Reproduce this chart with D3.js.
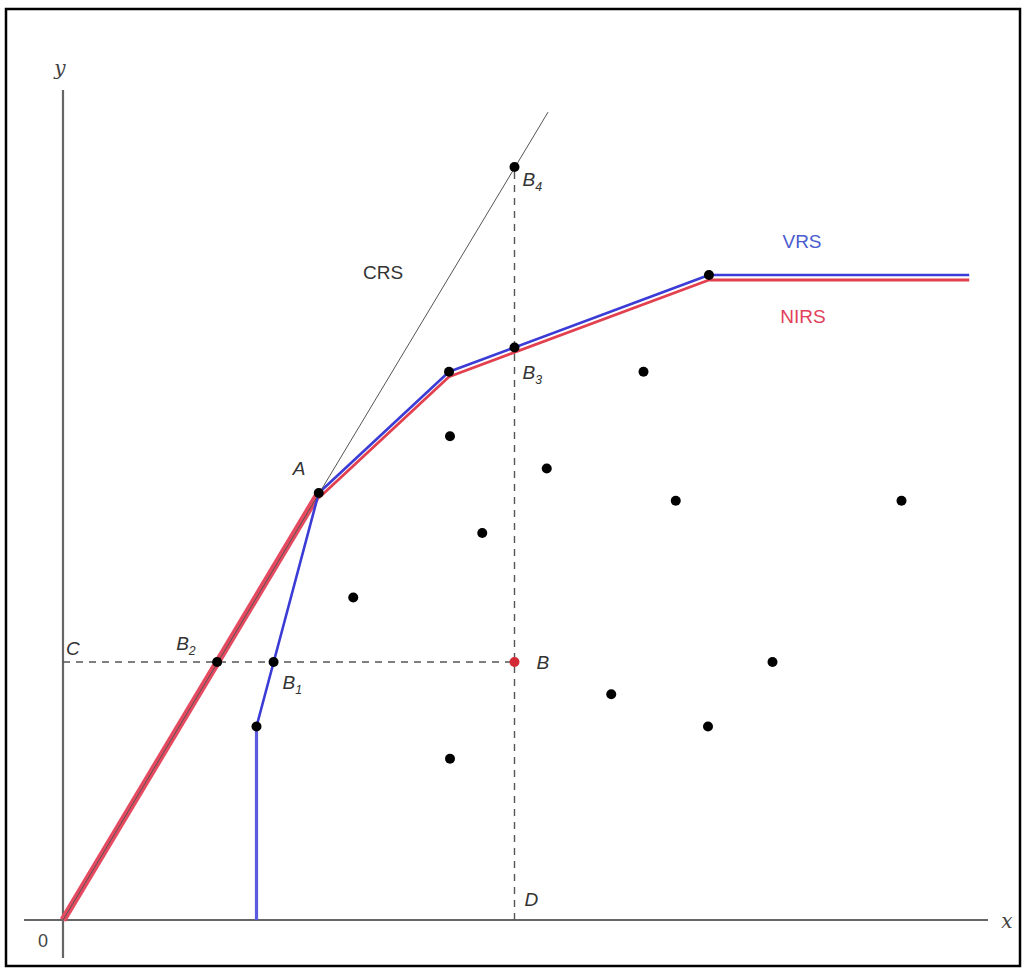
<!DOCTYPE html>
<html>
<head>
<meta charset="utf-8">
<script src="https://cdn.jsdelivr.net/npm/d3@7"></script>
<style>
  body { margin: 0; background: #fff; }
  svg { display: block; }
</style>
</head>
<body>
<div id="chart"></div>
<script>
// frontier data (input x, output y)
const crsLine = [[0, 0], [15.04, 25.05]];
const vrsFrontier = [[6, 0], [6, 6], [7.93, 13.24], [11.97, 17], [20.03, 20], [28.1, 20]];
const nirsFrontier = [[0, 0], [7.93, 13.24], [11.97, 17], [20.03, 20], [28.1, 20]];
const frontierDots = [[6, 6], [7.93, 13.24], [11.97, 17], [20.03, 20]];
const otherDmus = [[12, 15], [15, 14], [18, 17], [19, 13], [26, 13], [13, 12],
                   [9, 10], [22, 8], [17, 7], [20, 6], [12, 5]];
// projection points
const pointB = [14, 8];
const projNames = ["B1", "B2", "B3", "B4"];
const projX = [6.53, 4.78, 14, 14];
const projY = [8, 8, 17.75, 23.35];
const pointA = [7.93, 13.24];

const width = 1024, height = 968;

const svg = d3.select("#chart").append("svg")
    .attr("width", width)
    .attr("height", height);

const x = d3.scaleLinear().domain([0, 28.1]).range([63, 63 + 28.1 * 32.25]);
const y = d3.scaleLinear().domain([0, 25]).range([920, 920 - 25 * 32.25]);

// frame
svg.append("rect")
    .attr("x", 6).attr("y", 9)
    .attr("width", 1014).attr("height", 957)
    .attr("fill", "none")
    .attr("stroke", "#000")
    .attr("stroke-width", 2.5);

// axes
svg.append("line")
    .attr("x1", x(-1.21)).attr("x2", x(28.68))
    .attr("y1", y(0)).attr("y2", y(0))
    .attr("stroke", "#666").attr("stroke-width", 2.2);
svg.append("line")
    .attr("x1", x(0)).attr("x2", x(0))
    .attr("y1", y(-1.18)).attr("y2", y(25.74))
    .attr("stroke", "#666").attr("stroke-width", 2.2);

const line = d3.line().x(d => x(d[0])).y(d => y(d[1]));

// dashed guides through B
svg.append("line")
    .attr("x1", x(0)).attr("x2", x(pointB[0]))
    .attr("y1", y(pointB[1])).attr("y2", y(pointB[1]))
    .attr("stroke", "#555").attr("stroke-width", 1.4)
    .attr("stroke-dasharray", "7,6");
svg.append("line")
    .attr("x1", x(pointB[0])).attr("x2", x(pointB[0]))
    .attr("y1", y(0)).attr("y2", y(projY[3]))
    .attr("stroke", "#555").attr("stroke-width", 1.4)
    .attr("stroke-dasharray", "7,6");

// NIRS: wide band along CRS, then offset below VRS
svg.append("path")
    .datum(nirsFrontier.slice(0, 2))
    .attr("d", line)
    .attr("fill", "none")
    .attr("stroke", "#e64a60")
    .attr("stroke-width", 7);
svg.append("path")
    .datum(nirsFrontier.slice(1))
    .attr("d", line)
    .attr("transform", "translate(0,5)")
    .attr("fill", "none")
    .attr("stroke", "#e2404e")
    .attr("stroke-width", 2.8)
    .attr("stroke-linejoin", "round");

// VRS
svg.append("path")
    .datum(vrsFrontier.slice(0, 2))
    .attr("d", line)
    .attr("fill", "none")
    .attr("stroke", "#5b5be0")
    .attr("stroke-width", 3.2);
svg.append("path")
    .datum(vrsFrontier.slice(1))
    .attr("d", line)
    .attr("fill", "none")
    .attr("stroke", "#3b3bd6")
    .attr("stroke-width", 2.6)
    .attr("stroke-linejoin", "round");

// CRS ray
svg.append("path")
    .datum(crsLine)
    .attr("d", line)
    .attr("fill", "none")
    .attr("stroke", "#555")
    .attr("stroke-width", 1);

// dots
const dots = frontierDots.concat(otherDmus, projX.map((v, i) => [v, projY[i]]));
svg.selectAll("circle.dmu")
    .data(dots)
    .enter()
    .append("circle")
    .attr("class", "dmu")
    .attr("cx", d => x(d[0]))
    .attr("cy", d => y(d[1]))
    .attr("r", 5)
    .attr("fill", "#000");
svg.append("circle")
    .attr("cx", x(pointB[0]))
    .attr("cy", y(pointB[1]))
    .attr("r", 5)
    .attr("fill", "#d42a36");

// text helpers
function label(px, py, main, sub, opts) {
    const t = svg.append("text")
        .attr("x", px).attr("y", py)
        .attr("font-family", opts.family || "Liberation Sans, Arial, sans-serif")
        .attr("font-size", opts.size || 18)
        .attr("font-style", opts.italic ? "italic" : "normal")
        .attr("fill", opts.color || "#333")
        .attr("text-anchor", opts.anchor || "middle")
        .text(main);
    if (sub) {
        t.append("tspan")
            .attr("dy", 5)
            .attr("font-size", (opts.size || 18) * 0.65)
            .text(sub);
    }
}

const it = { italic: true, size: 19, anchor: "start", color: "#333" };

label(60, 75, "y", null, { family: "DejaVu Serif, serif", italic: true, size: 20, color: "#444" });
label(1007, 928, "x", null, { family: "DejaVu Serif, serif", italic: true, size: 20, color: "#444" });
label(43, 947, "0", null, { size: 18, color: "#444" });

label(383, 279, "CRS", null, { size: 19, color: "#333" });
label(802, 248, "VRS", null, { size: 19, color: "#4a5cd0" });
label(803, 323, "NIRS", null, { size: 19, color: "#e2405a" });

label(x(pointA[0]) - 26, y(pointA[1]) - 18, "A", null, it);
label(x(pointB[0]) + 22, y(pointB[1]) + 7, "B", null, it);
label(x(0) + 3, y(pointB[1]) - 7, "C", null, it);
label(x(pointB[0]) + 10, y(0) - 14, "D", null, it);
label(x(projX[0]) + 9, y(projY[0]) + 27, "B", "1", it);
label(x(projX[1]) - 41, y(projY[1]) - 12, "B", "2", it);
label(x(projX[2]) + 8, y(projY[2]) + 31, "B", "3", it);
label(x(projX[3]) + 8, y(projY[3]) + 19, "B", "4", it);
</script>
</body>
</html>
